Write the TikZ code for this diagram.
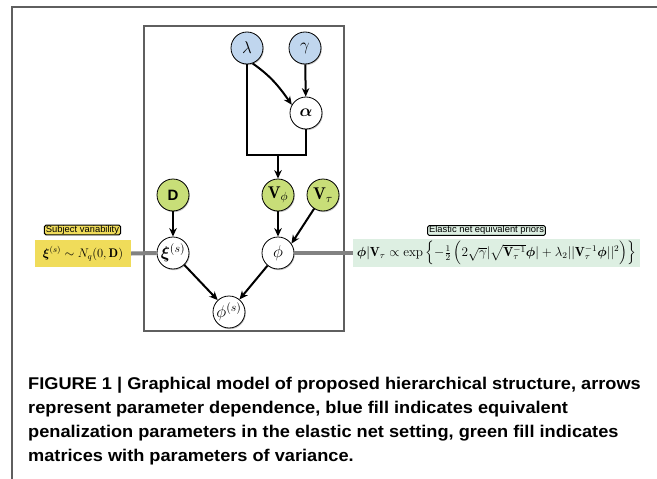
\documentclass[tikz,border=0pt]{standalone}
\usepackage{amsmath,amssymb}
\usepackage{graphicx}
\usepackage{bm}
\usepackage{fontspec}
\setsansfont{Liberation Sans}
\newfontfamily\capfont[FakeStretch=1.07]{Liberation Sans}
\usetikzlibrary{arrows.meta,shadows}
\definecolor{nblue}{RGB}{192,214,238}
\definecolor{ngreen}{RGB}{200,222,120}
\definecolor{ybox}{RGB}{240,220,90}
\definecolor{gbox}{RGB}{221,239,226}
\definecolor{framec}{RGB}{95,95,95}
\definecolor{linkc}{RGB}{130,130,130}
\newcommand{\ndtxt}[1]{\scalebox{1.18}{#1}}
\tikzset{
  vnode/.style={circle, draw=black, line width=0.8pt, minimum size=32pt, inner sep=0pt,
     font=\fontsize{14.4}{17}\selectfont,
     drop shadow={opacity=0.45, shadow xshift=0.8pt, shadow yshift=-1.2pt}},
  bnode/.style={vnode, fill=nblue},
  gnode/.style={vnode, fill=ngreen},
  wnode/.style={vnode, fill=white},
  arr/.style={-{Stealth[length=8.5pt,width=7.5pt]}, line width=2pt},
  plain/.style={line width=2pt},
  link/.style={draw=linkc, line width=4pt},
  tag/.style={draw=black, line width=1pt, rounded corners=1.5pt, inner xsep=1.5pt, inner ysep=0.4pt,
     font=\sffamily\fontsize{9.4}{9.6}\selectfont},
  capline/.style={anchor=base west, inner sep=0pt, font=\capfont\bfseries\fontsize{17}{20}\selectfont}
}
\begin{document}
\begin{tikzpicture}[x=1pt,y=-1pt]
\useasboundingbox (0,0) rectangle (657,479);
\fill[white] (0,0) rectangle (657,479);
\draw[framec, line width=1.5pt] (12,479) -- (12,7) -- (657,7);
\draw[framec, line width=2pt] (144,26) rectangle (344,331);

\node[bnode] (lam) at (247,48) {\ndtxt{$\lambda$}};
\node[bnode] (gam) at (305,48) {\ndtxt{$\gamma$}};
\node[wnode] (alp) at (306,113) {\ndtxt{$\bm{\alpha}$}};
\node[gnode] (D) at (173,195) {\sffamily\bfseries\fontsize{15}{17}\selectfont D};
\node[gnode] (Vphi) at (278,195) {\ndtxt{$\mathbf{V}_{\phi}$}};
\node[gnode] (Vtau) at (323,195) {\ndtxt{$\mathbf{V}_{\tau}$}};
\node[wnode] (xi) at (173,253) {\ndtxt{$\bm{\xi}^{(s)}$}};
\node[wnode] (phi) at (278,253) {\ndtxt{$\phi$}};
\node[wnode] (phis) at (229,312) {\ndtxt{$\phi^{(s)}$}};
\coordinate (j) at (278,155);

\draw[arr] (gam) -- (alp);
\draw[arr] (lam.-70) to[out=-35,in=125] (alp.150);
\draw[plain] (lam.south) |- (j);
\draw[plain] (alp.south) |- (j);
\draw[arr] (j) -- (Vphi);
\draw[arr] (D) -- (xi);
\draw[arr] (Vphi) -- (phi);
\draw[arr] (Vtau) -- (phi.35);
\draw[arr] (xi) -- (phis);
\draw[arr] (phi) -- (phis);

\node[fill=ybox, minimum width=96pt, minimum height=27pt, inner sep=0pt,
      font=\fontsize{12}{14}\selectfont] (ybx) at (83,253.5)
  {\scalebox{1.04}{$\bm{\xi}^{(s)}\sim N_q(0,\mathbf{D})$}};
\node[tag, fill=ybox] (ylab) at (82.5,230) {Subject variability};
\node[fill=gbox, minimum width=287pt, minimum height=28pt, inner sep=0pt,
      font=\fontsize{12}{14}\selectfont] (gbx) at (496.5,253)
  {\scalebox{1.1}{$\bm{\phi}|\mathbf{V}_\tau \propto \exp\left\{-\frac{1}{2}\left(2\sqrt{\gamma}|\sqrt{\mathbf{V}_\tau^{-1}}\bm{\phi}| + \lambda_2||\mathbf{V}_\tau^{-1}\bm{\phi}||^2\right)\right\}$}};
\node[tag, fill=gbox] (glab) at (486.5,230.5) {Elastic net equivalent priors};

\draw[link] (ybx.east) -- (xi.west);
\draw[link] (phi.east) -- (gbx.west);

\node[capline] (c1) at (28,389) {FIGURE 1 | Graphical model of proposed hierarchical structure, arrows};
\node[capline] (c2) at (28,413) {represent parameter dependence, blue fill indicates equivalent};
\node[capline] (c3) at (28,437) {penalization parameters in the elastic net setting, green fill indicates};
\node[capline] (c4) at (28,461) {matrices with parameters of variance.};
\end{tikzpicture}
\end{document}
